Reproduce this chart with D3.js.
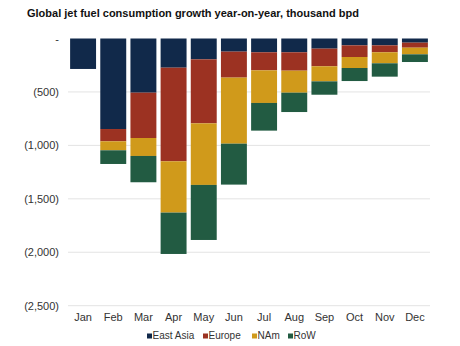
<!DOCTYPE html>
<html>
<head>
<meta charset="utf-8">
<script src="https://cdn.jsdelivr.net/npm/d3@7"></script>
<style>
body { margin: 0; background: #fff; }
svg { display: block; font-family: "Liberation Sans", Arial, sans-serif; }
</style>
</head>
<body>
<div id="chart"></div>
<script>
const months = ["Jan","Feb","Mar","Apr","May","Jun","Jul","Aug","Sep","Oct","Nov","Dec"];
const seriesNames = ["East Asia","Europe","NAm","RoW"];
const eastAsia = [-285,-847,-507,-273,-195,-123,-129,-129,-95,-64,-64,-39];
const europe   = [0,-115,-424,-876,-599,-243,-169,-172,-165,-109,-65,-47];
const nam      = [0,-84,-168,-480,-576,-618,-305,-206,-141,-103,-103,-62];
const row      = [0,-128,-246,-387,-515,-383,-259,-181,-125,-122,-125,-72];
const yTicks = [0,-500,-1000,-1500,-2000,-2500];
const colors = ["#11294a","#9c3222","#d09a1b","#225b42"];

const W = 460, H = 346;
const svg = d3.select("#chart").append("svg").attr("width", W).attr("height", H);

svg.append("text").attr("x", 27).attr("y", 17)
  .attr("font-size", 11).attr("font-weight", "bold").attr("fill", "#111")
  .text("Global jet fuel consumption growth year-on-year, thousand bpd");

const x = d3.scaleBand().domain(months).range([68, 430]).paddingInner(0.14).paddingOuter(0.07);
const y = d3.scaleLinear().domain([0, -2500]).range([38.5, 305.7]);

const fmt = v => v === 0 ? "-" : "(" + d3.format(",")(-v) + ")";

// gridlines
svg.append("g").selectAll("line").data(yTicks.filter(t => t !== 0)).join("line")
  .attr("x1", 68).attr("x2", 430)
  .attr("y1", d => y(d)).attr("y2", d => y(d))
  .attr("stroke", "#e3e3e3").attr("stroke-width", 1);

// y axis labels
const yAxis = d3.axisLeft(y).tickValues(yTicks).tickFormat(fmt).tickSize(0).tickPadding(9);
const gy = svg.append("g").attr("transform", "translate(68,0)").call(yAxis);
gy.select(".domain").remove();
gy.selectAll("text").attr("font-size", 11).attr("fill", "#333").attr("font-family", "Liberation Sans, Arial, sans-serif");

// data
const data = months.map((m, i) => ({month: m, "East Asia": eastAsia[i], "Europe": europe[i], "NAm": nam[i], "RoW": row[i]}));
const stack = d3.stack().keys(seriesNames).offset(d3.stackOffsetDiverging);
const layers = stack(data);

svg.append("g").selectAll("g").data(layers).join("g")
  .attr("fill", (d, i) => colors[i])
  .selectAll("rect").data(d => d).join("rect")
  .attr("x", d => x(d.data.month))
  .attr("width", x.bandwidth())
  .attr("y", d => y(Math.max(d[0], d[1])))
  .attr("height", d => Math.abs(y(d[0]) - y(d[1])));

// x axis labels
const xAxis = d3.axisBottom(x).tickSize(0).tickPadding(0);
const gx = svg.append("g").attr("transform", "translate(0,313)").call(xAxis);
gx.select(".domain").remove();
gx.selectAll("text").attr("font-size", 11).attr("fill", "#333").attr("dy", "0.71em").attr("y", 0)
  .attr("font-family", "Liberation Sans, Arial, sans-serif");

// legend
const legendX = [147, 203, 252, 288];
const lg = svg.append("g");
seriesNames.forEach((name, i) => {
  lg.append("rect").attr("x", legendX[i]).attr("y", 333.5).attr("width", 5).attr("height", 5).attr("fill", colors[i]);
  lg.append("text").attr("x", legendX[i] + 5.5).attr("y", 338.5).attr("font-size", 10).attr("fill", "#333").text(name);
});
</script>
</body>
</html>
